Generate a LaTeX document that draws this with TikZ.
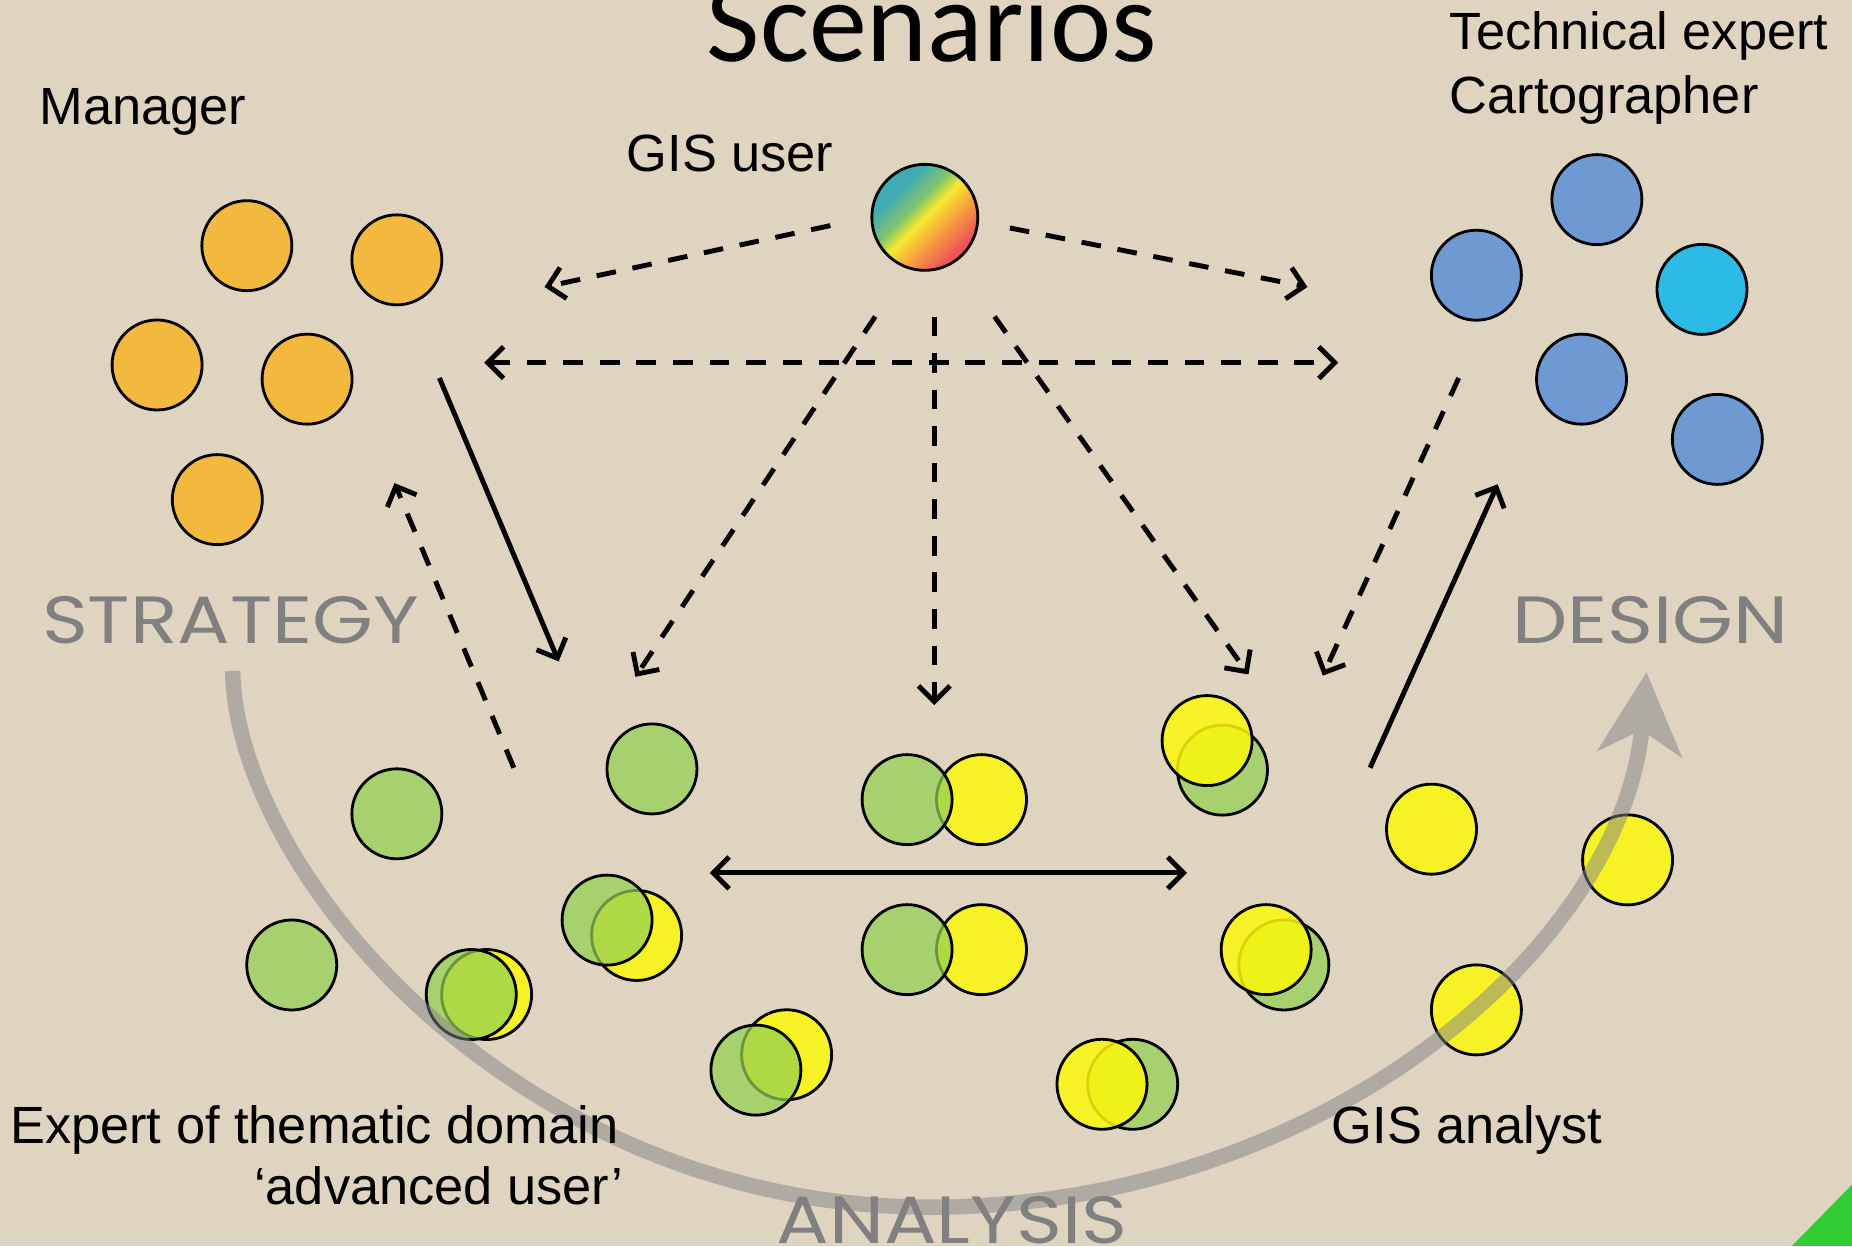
\documentclass[tikz,border=0pt]{standalone}
\usepackage{fontspec}
\setmainfont{Liberation Sans}
\newfontfamily\titlefont{Carlito}
\newfontfamily\phasefont{Poppins}[FakeStretch=1.17]
\usetikzlibrary{arrows.meta}

% palette
\definecolor{linen}{RGB}{222,212,192}
\definecolor{mgrorange}{RGB}{242,185,62}
\definecolor{techblue}{RGB}{111,153,210}
\definecolor{techcyan}{RGB}{44,186,230}
\definecolor{expgreen}{RGB}{146,208,80}
\definecolor{anyellow}{RGB}{252,248,10}
\definecolor{phasegray}{RGB}{128,128,128}
\definecolor{cyclegray}{RGB}{130,132,136}
\definecolor{cornergreen}{RGB}{50,205,50}
\definecolor{gteal}{RGB}{62,172,178}
\definecolor{ggreen}{RGB}{130,196,110}
\definecolor{gyellow}{RGB}{246,234,46}
\definecolor{gorange}{RGB}{245,160,62}
\definecolor{gred}{RGB}{238,84,88}

% diagonal rainbow for the generic GIS user
\pgfdeclarehorizontalshading{gisrainbow}{100bp}{color(0bp)=(gteal); color(32bp)=(gteal); color(43bp)=(ggreen); color(50bp)=(gyellow); color(60bp)=(gorange); color(72bp)=(gred); color(100bp)=(gred)}

\begin{document}
\begin{tikzpicture}[x=0.011811cm, y=-0.011811cm,
  person/.style={circle, draw=black, line width=0.8pt, minimum size=0.9cm, inner sep=0pt},
  mgr/.style={person, fill=mgrorange},
  tech/.style={person, fill=techblue},
  expert/.style={person, fill=expgreen, fill opacity=0.72},
  analyst/.style={person, fill=anyellow, fill opacity=0.85},
  flow/.style={line width=1.4pt, -{Straight Barb[length=4.5pt,width=9pt]}},
  flowboth/.style={line width=1.4pt, {Straight Barb[length=4.5pt,width=9pt]}-{Straight Barb[length=4.5pt,width=9pt]}},
  dashy/.style={dash pattern=on 5.6pt off 4.8pt},
  role/.style={font=\fontsize{14.9}{16}\selectfont, anchor=base west, inner sep=0pt},
  phase/.style={font=\phasefont\fontsize{19}{20}\selectfont, text=phasegray, anchor=base west, inner sep=0pt}
]
\useasboundingbox (0,0) rectangle (1568,1055);
\fill[linen] (0,0) rectangle (1568,1055);

% ---- managers ----
\node[mgr] (m1) at (209,208) {};
\node[mgr] (m2) at (336,220) {};
\node[mgr] (m3) at (133,309) {};
\node[mgr] (m4) at (260,321) {};
\node[mgr] (m5) at (184,423) {};

% ---- technical experts / cartographers ----
\node[tech] (t1) at (1352,169) {};
\node[tech] (t2) at (1250,233) {};
\node[tech, fill=techcyan] (t3) at (1441,245) {};
\node[tech] (t4) at (1339,321) {};
\node[tech] (t5) at (1454,372) {};

% ---- thematic experts ----
\node[expert] (e1) at (336,689) {};
\node[expert] (e2) at (552,651) {};
\node[expert] (e3) at (247,817) {};

% mixed pairs, expert in front
\node[analyst] (p1y) at (412,842) {};
\node[expert]  (p1g) at (399,842) {};
\node[analyst] (p2y) at (539,792) {};
\node[expert]  (p2g) at (514,779) {};
\node[analyst] (p3y) at (831,677) {};
\node[expert]  (p3g) at (768,677) {};
\node[analyst] (p4y) at (831,804) {};
\node[expert]  (p4g) at (768,804) {};
\node[analyst] (p5y) at (666,893) {};
\node[expert]  (p5g) at (640,906) {};

% mixed pairs, analyst in front
\node[expert]  (p6g) at (1035,652) {};
\node[analyst] (p6y) at (1022,627) {};
\node[expert]  (p7g) at (1087,817) {};
\node[analyst] (p7y) at (1072,804) {};
\node[expert]  (p8g) at (959,918) {};
\node[analyst] (p8y) at (933,918) {};

% ---- GIS analysts ----
\node[analyst] (a1) at (1212,702) {};
\node[analyst] (a2) at (1378,728) {};
\node[analyst] (a3) at (1250,855) {};

% ---- generic GIS user ----
\node[circle, draw=black, line width=0.8pt, minimum size=1.06cm, inner sep=0pt,
      shade, shading=gisrainbow, shading angle=-45] (gis) at (783,184) {};

% ---- strategy -> analysis -> design cycle ----
\begin{scope}[transparency group, opacity=0.5]
  \draw[cyclegray, line width=4.4pt,
        -{Stealth[length=0.82cm, width=0.84cm, inset=0.24cm]}]
    (197,568) .. controls (200,740) and (440,1022) .. (787,1022)
              .. controls (1120,1022) and (1375,800) .. (1394,569);
\end{scope}

% ---- arrow end points ----
\coordinate (gUL) at (703,191);  \coordinate (toMgrA) at (461,243);
\coordinate (gUR) at (855,193);  \coordinate (toTechA) at (1107,243);
\coordinate (gDL) at (741,268);  \coordinate (toExp) at (538,573);
\coordinate (gD)  at (791,268);  \coordinate (toMid) at (791,597);
\coordinate (gDR) at (842,268);  \coordinate (toAn) at (1057,571);
\coordinate (mgrSide) at (410,307); \coordinate (techSide) at (1133,307);
\coordinate (mgrOut) at (372,320); \coordinate (expIn) at (473,560);
\coordinate (expOut) at (435,650); \coordinate (mgrIn) at (334,409);
\coordinate (expSide) at (601,739); \coordinate (anSide) at (1005,739);
\coordinate (anOut) at (1160,650); \coordinate (techIn) at (1268,410);
\coordinate (techOut) at (1235,320); \coordinate (anIn) at (1120,572);

% ---- interactions ----
\draw[flow, dashy] (gUL) -- (toMgrA);
\draw[flow, dashy] (gUR) -- (toTechA);
\draw[flow, dashy] (gDL) -- (toExp);
\draw[flow, dashy] (gD) -- (toMid);
\draw[flow, dashy] (gDR) -- (toAn);
\draw[flowboth, dashy] (mgrSide) -- (techSide);
\draw[flow] (mgrOut) -- (expIn);
\draw[flow, dashy] (expOut) -- (mgrIn);
\draw[flowboth] (expSide) -- (anSide);
\draw[flow] (anOut) -- (techIn);
\draw[flow, dashy] (techOut) -- (anIn);

% ---- labels ----
\node[anchor=base, inner sep=0pt, font=\titlefont\fontsize{33}{36}\selectfont] (title) at (789,52) {Scenarios};
\node[role] (lmgr) at (33,105) {Manager};
\node[role] (lgis) at (530,145) {GIS user};
\node[role] (ltech1) at (1227,42) {Technical expert};
\node[role] (ltech2) at (1227,96) {Cartographer};
\node[role] (lexp1) at (8,968) {Expert of thematic domain};
\node[role, anchor=base east] (lexp2) at (528,1020) {‘advanced user’};
\node[role] (lan) at (1127,968) {GIS analyst};
\node[phase] (pstr) at (35,545) {STRATEGY};
\node[phase] (pdes) at (1280,545) {DESIGN};
\node[phase] (pana) at (657,1053) {ANALYSIS};

% ---- corner mark ----
\fill[cornergreen] (1517,1055) -- (1568,1003) -- (1568,1055) -- cycle;
\end{tikzpicture}
\end{document}
